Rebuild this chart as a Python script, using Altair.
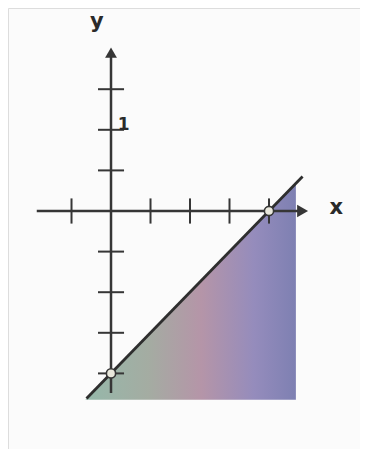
import altair as alt
import pandas as pd

# Data (in graph units)
x_ticks = [-1, 1, 2, 3, 4]
y_ticks = [3, 2, 1, -1, -2, -3, -4]
line_x = [-0.62, 4.85]           # line y = x - 4
line_y = [x - 4 for x in line_x]
region_x = [-0.65, 4.68]         # shaded region below the line
region_top = [x - 4 for x in region_x]
region_bottom = [-4.65, -4.65]
marked_x = [4, 0]
marked_y = [0, -4]
x_axis_ext = [-1.88, 4.85]
y_axis_ext = [-4.48, 3.9]

XD = [-2.608, 6.304]
YD = [-5.862, 5.0]
xs = alt.Scale(domain=XD, nice=False, zero=False)
ys = alt.Scale(domain=YD, nice=False, zero=False)

ink = "#363636"

area_df = pd.DataFrame({"x": region_x, "y": region_top, "y2": region_bottom})
area = alt.Chart(area_df).mark_area(
    color=alt.Gradient(
        gradient="linear",
        stops=[
            alt.GradientStop(color="#95b8aa", offset=0),
            alt.GradientStop(color="#a4aca2", offset=0.3),
            alt.GradientStop(color="#b595a8", offset=0.55),
            alt.GradientStop(color="#958cbc", offset=0.8),
            alt.GradientStop(color="#7e80b2", offset=1),
        ],
        x1=0, x2=1, y1=0, y2=0,
    ),
    opacity=1,
).encode(
    x=alt.X("x:Q", scale=xs, axis=None),
    y=alt.Y("y:Q", scale=ys, axis=None),
    y2="y2:Q",
)

xaxis_df = pd.DataFrame({"x": [x_axis_ext[0]], "x2": [x_axis_ext[1]], "y": [0]})
xaxis = alt.Chart(xaxis_df).mark_rule(color=ink, strokeWidth=2.5).encode(
    x=alt.X("x:Q", scale=xs, axis=None), x2="x2:Q", y=alt.Y("y:Q", scale=ys, axis=None)
)
yaxis_df = pd.DataFrame({"x": [0], "y": [y_axis_ext[0]], "y2": [y_axis_ext[1]]})
yaxis = alt.Chart(yaxis_df).mark_rule(color=ink, strokeWidth=2.5).encode(
    x=alt.X("x:Q", scale=xs, axis=None), y=alt.Y("y:Q", scale=ys, axis=None), y2="y2:Q"
)

arr_r = alt.Chart(pd.DataFrame({"x": [x_axis_ext[1]], "y": [0]})).mark_point(
    shape="triangle-right", filled=True, size=160, color=ink, opacity=1
).encode(x=alt.X("x:Q", scale=xs, axis=None), y=alt.Y("y:Q", scale=ys, axis=None))
arr_u = alt.Chart(pd.DataFrame({"x": [0], "y": [y_axis_ext[1]]})).mark_point(
    shape="triangle-up", filled=True, size=140, color=ink, opacity=1
).encode(x=alt.X("x:Q", scale=xs, axis=None), y=alt.Y("y:Q", scale=ys, axis=None))

xt_df = pd.DataFrame({"x": x_ticks, "y": [-0.31] * len(x_ticks), "y2": [0.31] * len(x_ticks)})
xt = alt.Chart(xt_df).mark_rule(color=ink, strokeWidth=2).encode(
    x=alt.X("x:Q", scale=xs, axis=None), y=alt.Y("y:Q", scale=ys, axis=None), y2="y2:Q"
)
yt_df = pd.DataFrame({"y": y_ticks, "x": [-0.33] * len(y_ticks), "x2": [0.33] * len(y_ticks)})
yt = alt.Chart(yt_df).mark_rule(color=ink, strokeWidth=2).encode(
    y=alt.Y("y:Q", scale=ys, axis=None), x=alt.X("x:Q", scale=xs, axis=None), x2="x2:Q"
)

line = alt.Chart(pd.DataFrame({"x": line_x, "y": line_y})).mark_line(
    color="#2e2e2e", strokeWidth=2.8
).encode(x=alt.X("x:Q", scale=xs, axis=None), y=alt.Y("y:Q", scale=ys, axis=None))

pts = alt.Chart(pd.DataFrame({"x": marked_x, "y": marked_y})).mark_point(
    shape="circle", filled=True, fill="#e9e8dc", stroke=ink, strokeWidth=1.6, size=85, opacity=1
).encode(x=alt.X("x:Q", scale=xs, axis=None), y=alt.Y("y:Q", scale=ys, axis=None))

lab_df = pd.DataFrame({"x": [5.7, -0.36], "y": [0.08, 4.65], "t": ["x", "y"]})
labs = alt.Chart(lab_df).mark_text(
    font="DejaVu Sans", fontSize=21, fontWeight="bold", color="#2a2a2a", align="center", baseline="middle"
).encode(x=alt.X("x:Q", scale=xs, axis=None), y=alt.Y("y:Q", scale=ys, axis=None), text="t:N")

one = alt.Chart(pd.DataFrame({"x": [0.17], "y": [2.12], "t": ["1"]})).mark_text(
    font="DejaVu Sans", fontSize=17, fontWeight="bold", color="#2a2a2a", align="left", baseline="middle"
).encode(x=alt.X("x:Q", scale=xs, axis=None), y=alt.Y("y:Q", scale=ys, axis=None), text="t:N")

chart = alt.layer(area, xaxis, yaxis, xt, yt, line, arr_r, arr_u, pts, labs, one).properties(
    width=352, height=441, autosize="none", padding=0
).configure_view(stroke=None).configure(background="#fbfbfb")

chart.save("out.html", embed_options={"renderer": "svg", "actions": False})
